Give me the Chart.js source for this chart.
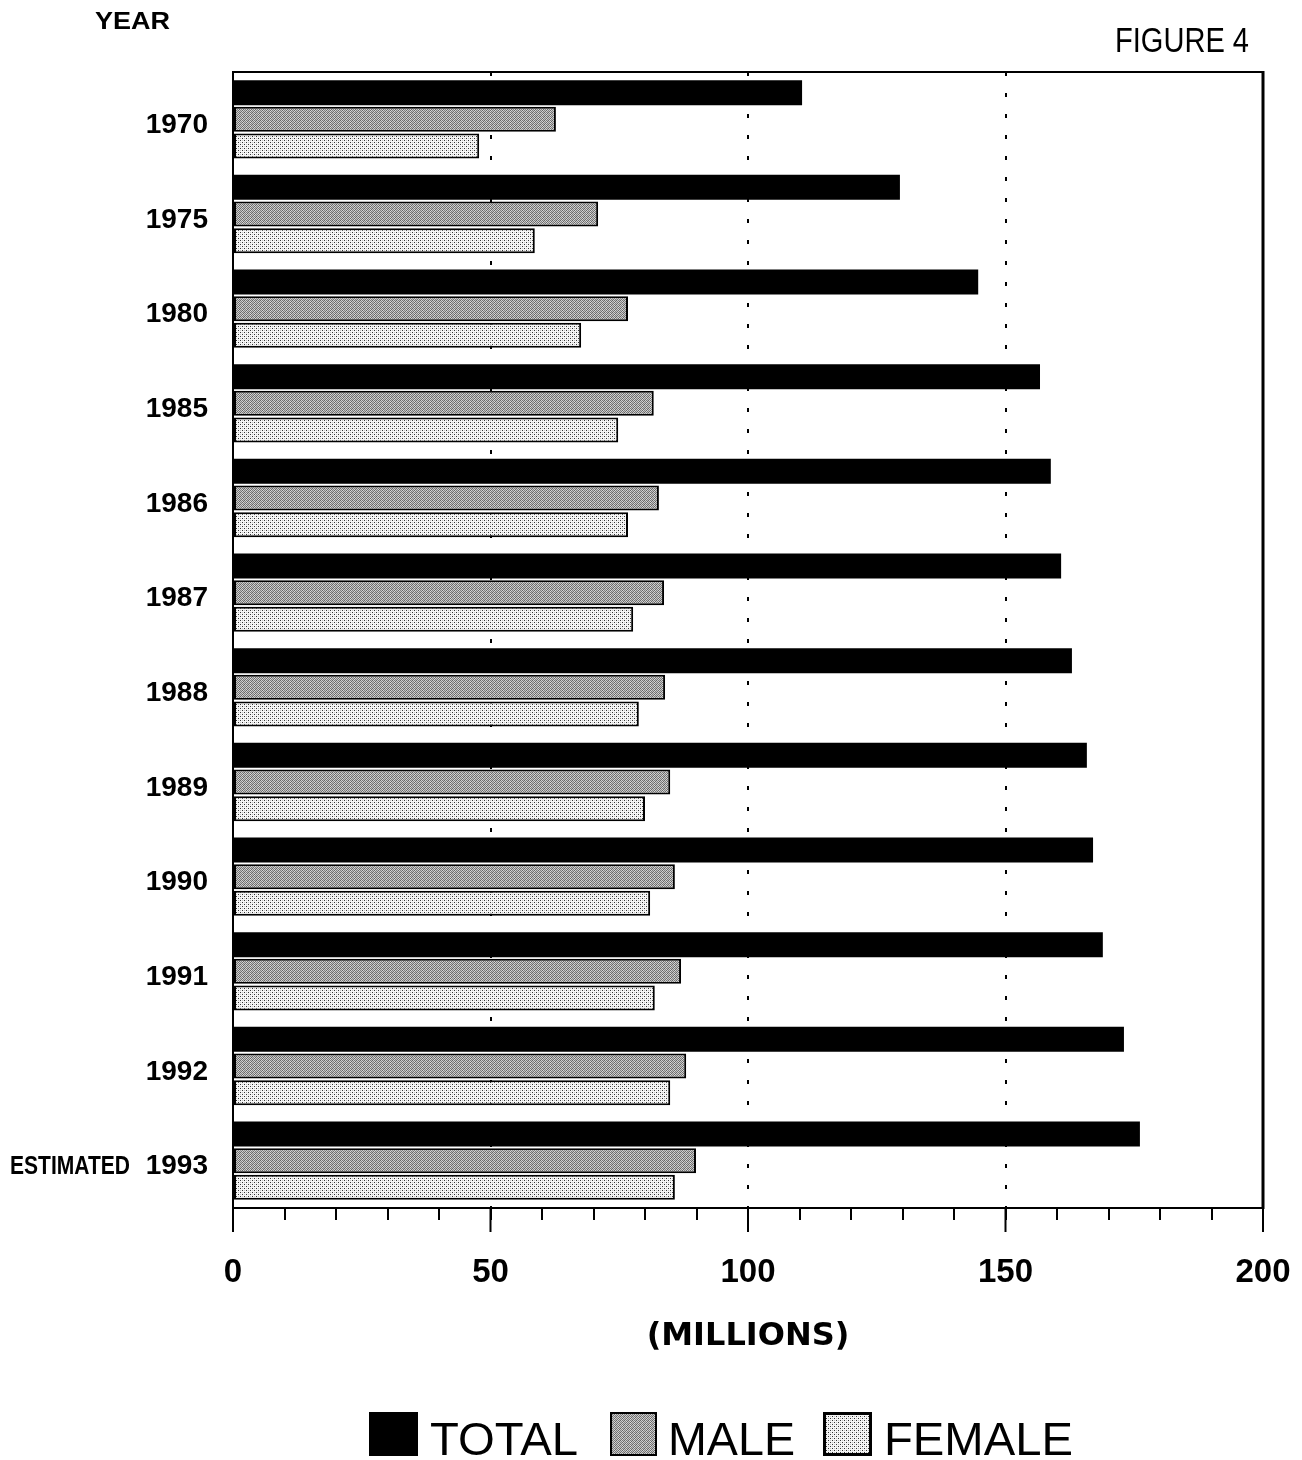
<!DOCTYPE html>
<html>
<head>
<meta charset="utf-8">
<script src="https://cdn.jsdelivr.net/npm/chart.js@4/dist/chart.umd.min.js"></script>
<style>
  html, body { margin: 0; padding: 0; background: #fff; }
  #wrap { width: 1302px; height: 1460px; position: relative; }
</style>
</head>
<body>
<div id="wrap"><canvas id="c" width="1302" height="1460"></canvas></div>
<script>
const categories = ['1970', '1975', '1980', '1985', '1986', '1987', '1988', '1989', '1990', '1991', '1992', 'ESTIMATED 1993'];
const totalValues  = [110.5, 129.5, 144.7, 156.7, 158.8, 160.8, 162.9, 165.8, 167.0, 168.9, 173.0, 176.1];
const maleValues   = [62.7, 70.9, 76.7, 81.7, 82.7, 83.7, 83.9, 84.9, 85.8, 87.0, 88.0, 89.9];
const femaleValues = [47.8, 58.6, 67.6, 74.8, 76.7, 77.7, 78.8, 80.0, 81.0, 81.9, 84.9, 85.8];
const seriesNames = ['TOTAL', 'MALE', 'FEMALE'];
const xTickLabels = [0, 50, 100, 150, 200];
const xTitle = '(MILLIONS)';
const yTitle = 'YEAR';
const figureLabel = 'FIGURE 4';

function makePattern(size, cells, bg) {
  const c = document.createElement('canvas');
  c.width = size; c.height = size;
  const g = c.getContext('2d');
  g.fillStyle = bg; g.fillRect(0, 0, size, size);
  cells.forEach(([px, py, col]) => { g.fillStyle = col; g.fillRect(px, py, 1, 1); });
  return g.createPattern(c, 'repeat');
}
const malePattern = makePattern(4, [
  [0,0,'#666'],[2,0,'#777'],[1,1,'#808080'],[3,1,'#666'],
  [0,2,'#808080'],[2,2,'#666'],[1,3,'#707070'],[3,3,'#7a7a7a'],
  [1,0,'#d0d0d0'],[3,0,'#bcbcbc'],[0,1,'#c8c8c8'],[2,1,'#d8d8d8'],
  [1,2,'#c4c4c4'],[3,2,'#d4d4d4'],[0,3,'#c0c0c0'],[2,3,'#d8d8d8']
], '#aaa');
const femalePattern = makePattern(4, [[0,0,'#333'],[2,2,'#333'],[2,0,'#c4c4c4'],[0,2,'#c4c4c4']], '#f6f6f6');

function stretchText(ctx, text, x, baseline, font, width) {
  ctx.save();
  ctx.font = font;
  const w = ctx.measureText(text).width;
  ctx.translate(x, baseline);
  ctx.scale(width / w, 1);
  ctx.textAlign = 'left';
  ctx.textBaseline = 'alphabetic';
  ctx.fillStyle = '#000';
  ctx.fillText(text, 0, 0);
  ctx.restore();
}

const decor = {
  id: 'decor',
  afterDraw(chart) {
    const { ctx, chartArea: a, scales: { x, y } } = chart;
    ctx.save();
    ctx.strokeStyle = '#000';
    // plot frame
    ctx.lineWidth = 2;
    ctx.strokeRect(a.left, a.top, a.right - a.left, a.bottom - a.top);
    ctx.lineWidth = 3;
    ctx.beginPath(); ctx.moveTo(a.right, a.top - 1); ctx.lineTo(a.right, a.bottom + 1); ctx.stroke();
    // major ticks (longer)
    ctx.lineWidth = 2;
    xTickLabels.forEach(v => {
      const px = x.getPixelForValue(v);
      ctx.beginPath(); ctx.moveTo(px, a.bottom); ctx.lineTo(px, a.bottom + 24); ctx.stroke();
    });
    // titles
    stretchText(ctx, yTitle, 95, 29, 'bold 23px "Liberation Sans"', 75);
    stretchText(ctx, figureLabel, 1115, 52, '35px "Liberation Sans"', 134);
    // estimated prefix for last category
    const last = categories.length - 1;
    const lab = categories[last];
    if (lab.indexOf(' ') > 0) {
      const prefix = lab.slice(0, lab.lastIndexOf(' '));
      const py = y.getPixelForTick(last);
      stretchText(ctx, prefix, 10, py + 13, 'bold 25px "Liberation Sans"', 120);
    }
    // legend
    const items = [
      { box: 369, bw: 49, text: 430, tw: 148, fill: '#000', lw: 0 },
      { box: 610, bw: 47, text: 668, tw: 127, fill: malePattern, lw: 2 },
      { box: 823, bw: 49, text: 884, tw: 189, fill: femalePattern, lw: 3 }
    ];
    items.forEach((it, i) => {
      ctx.fillStyle = it.fill;
      ctx.fillRect(it.box, 1412, it.bw, 44);
      if (it.lw) {
        ctx.lineWidth = it.lw;
        ctx.strokeStyle = '#000';
        ctx.strokeRect(it.box + it.lw / 2, 1412 + it.lw / 2, it.bw - it.lw, 44 - it.lw);
      }
      stretchText(ctx, seriesNames[i], it.text, 1455, '47px "Liberation Sans"', it.tw);
    });
    ctx.restore();
  }
};

new Chart(document.getElementById('c'), {
  type: 'bar',
  data: {
    labels: categories,
    datasets: [
      { label: seriesNames[0], data: totalValues, backgroundColor: '#000', borderColor: '#000', borderWidth: 0 },
      { label: seriesNames[1], data: maleValues, backgroundColor: malePattern, borderColor: '#000', borderWidth: 2, borderSkipped: false },
      { label: seriesNames[2], data: femaleValues, backgroundColor: femalePattern, borderColor: '#000', borderWidth: 2, borderSkipped: false }
    ]
  },
  options: {
    indexAxis: 'y',
    responsive: false,
    animation: false,
    devicePixelRatio: 1,
    categoryPercentage: 0.845,
    barPercentage: 0.94,
    layout: { padding: { left: 0, top: 72, right: 39, bottom: 102 } },
    plugins: { legend: { display: false }, tooltip: { enabled: false } },
    scales: {
      y: {
        type: 'category',
        afterFit: (s) => { s.width = 233; s.paddingTop = 0; s.paddingBottom = 0; },
        grid: { display: false, drawTicks: false },
        border: { display: false },
        ticks: {
          color: '#000',
          padding: 25,
          labelOffset: 6,
          font: { family: '"Liberation Sans"', weight: 'bold', size: 28 },
          callback: function (v, i) {
            const s = categories[i];
            return s.indexOf(' ') > 0 ? s.slice(s.lastIndexOf(' ') + 1) : s;
          }
        }
      },
      x: {
        min: 0,
        max: 200,
        afterFit: (s) => { s.height = 150; s.paddingLeft = 0; s.paddingRight = 0; },
        grid: {
          color: (c) => (c.tick && [50, 100, 150].includes(c.tick.value)) ? '#000' : 'rgba(0,0,0,0)',
          lineWidth: 2,
          tickColor: '#000',
          tickLength: 12,
          tickWidth: 2
        },
        border: { display: true, color: '#000', width: 2, dash: [4, 17] },
        ticks: {
          stepSize: 10,
          autoSkip: false,
          maxRotation: 0,
          color: '#000',
          padding: 33,
          font: { family: '"Liberation Sans"', weight: 'bold', size: 33 },
          callback: (v) => xTickLabels.includes(v) ? String(v) : ''
        },
        title: {
          display: true,
          text: xTitle,
          color: '#000',
          font: { family: '"DejaVu Sans"', weight: 'bold', size: 32 },
          padding: { top: 0, bottom: 2 }
        }
      }
    }
  },
  plugins: [decor]
});
</script>
</body>
</html>
